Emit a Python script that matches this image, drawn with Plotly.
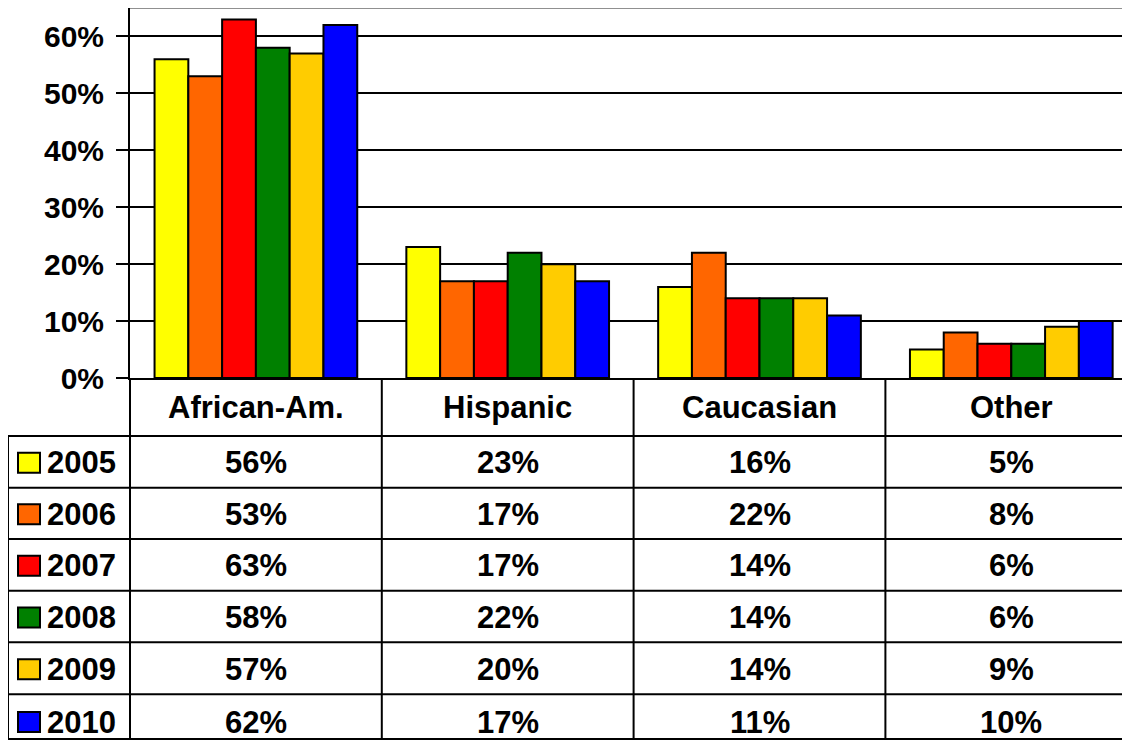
import plotly.graph_objects as go

categories = ["African-Am.", "Hispanic", "Caucasian", "Other"]
years = ["2005", "2006", "2007", "2008", "2009", "2010"]
values = {
    "2005": [56, 23, 16, 5],
    "2006": [53, 17, 22, 8],
    "2007": [63, 17, 14, 6],
    "2008": [58, 22, 14, 6],
    "2009": [57, 20, 14, 9],
    "2010": [62, 17, 11, 10],
}
colors = ["#FFFF00", "#FF6600", "#FF0000", "#008000", "#FFCC00", "#0000FF"]
y_ticks = [0, 10, 20, 30, 40, 50, 60]
y_tick_labels = [f"{v}%" for v in y_ticks]

OFF = 8  # page body margin
W, H = 1130 - OFF, 741 - OFF
# page-pixel layout of the plot area
P_LEFT, P_TOP, P_BOTTOM = 130, 8, 378
L = P_LEFT - OFF
T = P_TOP - OFF
B = H - (P_BOTTOM - OFF)
plot_h = H - T - B
plot_w = W - L
FONT = dict(family="Liberation Sans, Arial, sans-serif", size=31, color="black", weight="bold")


def py(p):
    # page pixel y -> paper coordinate
    return ((P_BOTTOM - OFF) - (p - OFF)) / plot_h


def px(p):
    # page pixel x -> paper coordinate
    return (p - P_LEFT) / plot_w


fig = go.Figure()
for yr, c in zip(years, colors):
    fig.add_trace(go.Bar(
        x=categories, y=values[yr], name=yr,
        marker=dict(color=c, line=dict(color="black", width=2)),
    ))

cat_w = 251.8
x_end = -0.5 + plot_w / cat_w

fig.update_layout(
    width=W, height=H,
    margin=dict(l=L, r=0, t=T, b=B, pad=0),
    paper_bgcolor="white", plot_bgcolor="white",
    barmode="group", bargap=0.195, bargroupgap=0,
    showlegend=False,
    xaxis=dict(range=[-0.5, x_end], showticklabels=False, showgrid=False,
               showline=True, linecolor="black", linewidth=2, zeroline=False, fixedrange=True),
    yaxis=dict(range=[0, 65], tickvals=y_ticks, ticktext=y_tick_labels,
               showgrid=True, gridcolor="black", gridwidth=2,
               showline=True, linecolor="black", linewidth=2,
               ticks="outside", ticklen=12, tickwidth=2, tickcolor="black",
               zeroline=False, tickfont=dict(FONT, size=30), ticklabelstandoff=6),
)

shapes = []
annotations = []
# top gray border
shapes.append(dict(type="line", xref="paper", yref="paper", x0=0, x1=1, y0=1, y1=1,
                   line=dict(color="#909090", width=2)))

row_edges = [436, 487.7, 539, 590.7, 642.3, 694.3, 739]
for e in row_edges:
    shapes.append(dict(type="line", xref="paper", yref="paper", x0=px(8), x1=1.01,
                       y0=py(e), y1=py(e), line=dict(color="black", width=2)))
shapes.append(dict(type="line", xref="paper", yref="paper", x0=px(8), x1=px(8),
                   y0=py(436), y1=py(739), line=dict(color="black", width=2)))
shapes.append(dict(type="line", xref="paper", yref="paper", x0=0, x1=0,
                   y0=py(378), y1=py(739), line=dict(color="black", width=2)))
for i in range(len(categories) - 1):
    shapes.append(dict(type="line", xref="x", yref="paper", x0=i + 0.5, x1=i + 0.5,
                       y0=py(378), y1=py(739), line=dict(color="black", width=2)))

for cat in categories:
    annotations.append(dict(x=cat, xref="x", y=py(407), yref="paper", text=cat,
                            showarrow=False, xanchor="center", yanchor="middle", font=FONT))

for r, (yr, c) in enumerate(zip(years, colors)):
    top = row_edges[r]
    bot = row_edges[r + 1]
    cy = (top + bot) / 2 + 1
    if r == len(years) - 1:
        cy = 722
    shapes.append(dict(type="rect", xref="paper", yref="paper",
                       x0=px(18), x1=px(40), y0=py(cy - 10), y1=py(cy + 10),
                       fillcolor=c, line=dict(color="black", width=2)))
    annotations.append(dict(x=px(45), xref="paper", y=py(cy), yref="paper", text=yr,
                            showarrow=False, xanchor="left", yanchor="middle", font=FONT))
    for cat, v in zip(categories, values[yr]):
        annotations.append(dict(x=cat, xref="x", y=py(cy), yref="paper", text=f"{v}%",
                                showarrow=False, xanchor="center", yanchor="middle", font=FONT))

fig.update_layout(shapes=shapes, annotations=annotations)
fig.write_html("out.html")
